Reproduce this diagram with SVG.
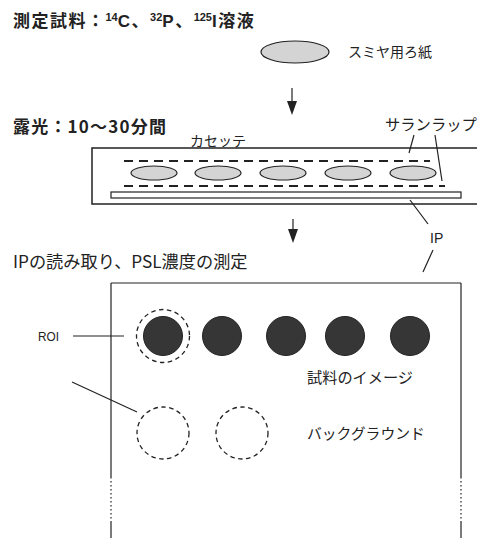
<svg xmlns="http://www.w3.org/2000/svg" width="477" height="538" viewBox="0 0 477 538">
<style>
.t{font-family:"Noto Sans CJK JP","Liberation Sans",sans-serif;fill:#222;font-size:14px}
.h{font-size:17px;letter-spacing:1.2px}
.b{font-weight:bold}
.l{stroke:#222;stroke-width:1.2;fill:none}
.dash{stroke:#222;stroke-width:2;stroke-dasharray:9 6;fill:none}
.ell{fill:#d4d4d4;stroke:#222;stroke-width:1.2}
.dark{fill:#363636;stroke:#222;stroke-width:1}
.roi{fill:none;stroke:#222;stroke-width:1.3;stroke-dasharray:4.5 3.5}
.sup{font-size:11px;font-family:"Liberation Sans",sans-serif;letter-spacing:0}
.lat{font-family:"Liberation Sans",sans-serif}
</style>
<rect width="477" height="538" fill="#fff"/>
<g id="title1"><text class="t h b" x="13" y="27" style="letter-spacing:1.5px">測定試料：<tspan class="sup" dy="-6">14</tspan><tspan class="lat" dy="6">C</tspan>、<tspan class="sup" dy="-6">32</tspan><tspan class="lat" dy="6">P</tspan>、<tspan class="sup" dy="-6">125</tspan><tspan class="lat" dy="6">I</tspan>溶液</text></g>
<g id="filter"><ellipse class="ell" cx="295" cy="52" rx="34" ry="11"/><text class="t" x="348" y="57">スミヤ用ろ紙</text></g>
<g id="title2"><text class="t h b" x="13" y="133">露光：10〜30分間</text></g>
<g id="cassette">
<rect x="92" y="148" width="400" height="56" fill="none" stroke="#222" stroke-width="1.5"/>
<text class="t" x="190" y="146">カセッテ</text>
<line class="dash" x1="124" y1="161" x2="430" y2="161"/>
<line class="dash" x1="124" y1="186" x2="445" y2="186"/>
<ellipse class="ell" cx="154" cy="173" rx="23" ry="7"/>
<ellipse class="ell" cx="218" cy="173" rx="23" ry="7"/>
<ellipse class="ell" cx="283" cy="173" rx="23" ry="7"/>
<ellipse class="ell" cx="348" cy="173" rx="23" ry="7"/>
<ellipse class="ell" cx="413" cy="173" rx="23" ry="7"/>
<rect x="111" y="192" width="350" height="6" fill="#fff" stroke="#222" stroke-width="1.2"/>
</g>
<g id="saran"><text class="t" x="385" y="130" style="font-size:15.3px">サランラップ</text></g>
<g id="ip-label"><text class="t lat" x="430" y="243" style="font-size:14px">IP</text></g>
<g id="title3"><text class="t" x="13" y="268" style="font-size:17.2px">IPの読み取り、PSL濃度の測定</text></g>
<g id="plate">
<line class="l" x1="111" y1="283" x2="461" y2="283"/>
<line class="l" x1="111" y1="283" x2="111" y2="477"/>
<line class="l" x1="461" y1="283" x2="461" y2="477"/>
<line class="l" x1="111" y1="477" x2="111" y2="522" stroke-dasharray="1.5 2.5"/>
<line class="l" x1="461" y1="477" x2="461" y2="522" stroke-dasharray="1.5 2.5"/>
<line class="l" x1="111" y1="522" x2="111" y2="538"/>
<line class="l" x1="461" y1="522" x2="461" y2="538"/>
</g>
<g id="samples">
<circle class="dark" cx="163" cy="336" r="19.5"/>
<circle class="dark" cx="222" cy="336" r="19.5"/>
<circle class="dark" cx="286" cy="336" r="19.5"/>
<circle class="dark" cx="345" cy="336" r="19.5"/>
<circle class="dark" cx="410" cy="336" r="19.5"/>
<circle class="roi" cx="163" cy="336" r="26.5"/>
<text class="t" x="307" y="383" style="font-size:15.2px">試料のイメージ</text>
</g>
<g id="background">
<circle class="roi" cx="163" cy="433" r="26"/>
<circle class="roi" cx="242" cy="433" r="26"/>
<text class="t" x="307" y="439" style="font-size:14.8px">バックグラウンド</text>
</g>
<g id="roi-label"><text class="t lat" x="38" y="341" style="font-size:13px" textLength="21" lengthAdjust="spacingAndGlyphs">ROI</text></g>
<g id="connectors">
<line class="l" x1="292" y1="88" x2="292" y2="102" stroke-width="1.6"/>
<polygon points="287,101 297,101 292,115" fill="#222"/>
<line class="l" x1="293" y1="219" x2="293" y2="230" stroke-width="1.6"/>
<polygon points="288,229 298,229 293,243" fill="#222"/>
<line class="l" x1="414" y1="135" x2="409" y2="153"/>
<line class="l" x1="435" y1="135" x2="442" y2="181"/>
<line class="l" x1="410" y1="200" x2="428" y2="224"/>
<line class="l" x1="433" y1="250" x2="423" y2="272"/>
<line class="l" x1="73" y1="336" x2="124" y2="336"/>
<line class="l" x1="72" y1="382" x2="137" y2="412"/>
</g>
</svg>
